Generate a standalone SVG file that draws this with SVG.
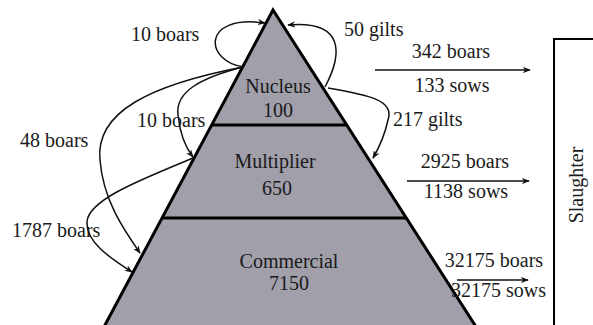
<svg xmlns="http://www.w3.org/2000/svg" width="593" height="325" viewBox="0 0 593 325">
<style>
text{font-family:"Liberation Serif","Times New Roman",serif;font-size:20px;fill:#1a1a1a}
.c{text-anchor:middle}
.ln{fill:none;stroke:#111;stroke-width:1.5}
.edge{fill:none;stroke:#000;stroke-width:3}
</style>
<defs>
<marker id="ah" viewBox="0 0 10 8" refX="9" refY="4" markerWidth="8" markerHeight="6.4" orient="auto" markerUnits="userSpaceOnUse">
<path d="M0,0 L10,4 L0,8 L3,4 z" fill="#111"/>
</marker>
</defs>
<rect width="593" height="325" fill="#fff"/>
<g id="pyramid">
<polygon points="273,10 97,340 484.5,340" fill="#a09faa" stroke="#000" stroke-width="3" stroke-linejoin="miter"/>
</g>
<g id="nucleus">
<text class="c" x="278" y="93">Nucleus</text>
<text class="c" x="278" y="117">100</text>
</g>
<g id="multiplier">
<line class="edge" x1="211" y1="125" x2="346" y2="125"/>
<text class="c" x="275" y="168">Multiplier</text>
<text class="c" x="277" y="195">650</text>
</g>
<g id="commercial">
<line class="edge" x1="162" y1="218" x2="406" y2="218"/>
<text class="c" x="289" y="268">Commercial</text>
<text class="c" x="289" y="290">7150</text>
</g>
<g id="slaughter">
<path d="M593,39 L554,39 L554,330" fill="none" stroke="#000" stroke-width="2"/>
<text class="c" transform="translate(583,185) rotate(-90)">Slaughter</text>
</g>
<g id="connectors">
<path class="ln" d="M244,67 C205,62 200,14 265,23" marker-end="url(#ah)"/>
<path class="ln" d="M325,87 C342,55 346,20 288,25" marker-end="url(#ah)"/>
<path class="ln" d="M328,88 C368,95 395,100 388,120 C385,134 380,146 373,158" marker-end="url(#ah)"/>
<path class="ln" d="M243,67 C200,78 175,92 178,115 C180,135 186,148 193,157" marker-end="url(#ah)"/>
<path class="ln" d="M243,67 C150,85 95,112 100,160 C103,200 124,230 140,253" marker-end="url(#ah)"/>
<path class="ln" d="M193,158 C140,180 88,200 87,222 C86,242 110,258 132,272" marker-end="url(#ah)"/>
<line class="ln" x1="375" y1="70" x2="530" y2="70" marker-end="url(#ah)"/>
<line class="ln" x1="407" y1="181" x2="529" y2="181" marker-end="url(#ah)"/>
<line class="ln" x1="457" y1="280" x2="528" y2="280" marker-end="url(#ah)"/>
</g>
<g id="labels">
<text x="131" y="41">10 boars</text>
<text x="344" y="36">50 gilts</text>
<text class="c" x="451" y="58">342 boars</text>
<text class="c" x="452" y="92">133 sows</text>
<text x="393" y="126">217 gilts</text>
<text class="c" x="465" y="168">2925 boars</text>
<text class="c" x="466" y="198">1138 sows</text>
<text class="c" x="494" y="267">32175 boars</text>
<text x="451" y="297">32175 sows</text>
<text x="137" y="127">10 boars</text>
<text x="20" y="147">48 boars</text>
<text x="12" y="237">1787 boars</text>
</g>
</svg>
